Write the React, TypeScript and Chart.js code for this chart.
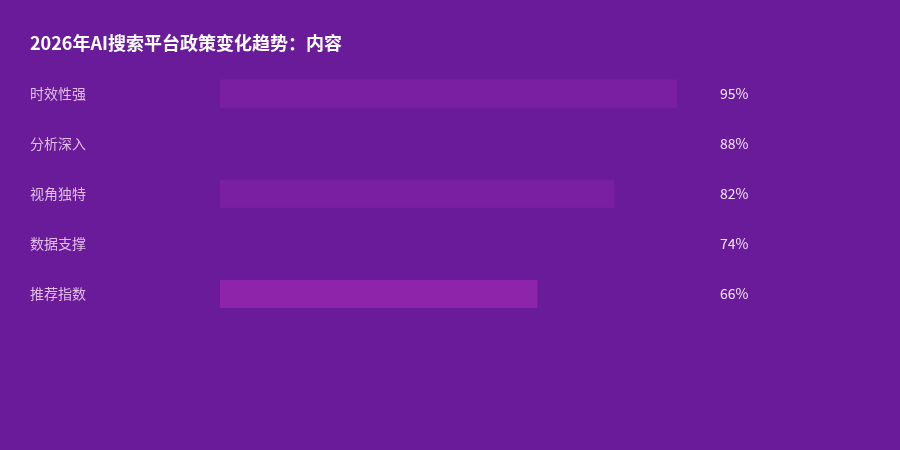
import { useEffect, useRef } from 'react'
import { Chart, registerables } from 'chart.js'
Chart.register(...registerables)

const TITLE = '2026年AI搜索平台政策变化趋势：内容'
const CATEGORIES = ['时效性强', '分析深入', '视角独特', '数据支撑', '推荐指数']
const VALUES = [95, 88, 82, 74, 66]
const VALUE_LABELS = ['95%', '88%', '82%', '74%', '66%']
const BAR_COLORS = ['#7b1fa2', '#6a1b9a', '#7b1fa2', '#6a1b9a', '#8e24aa']

const BG = '#6a1b9a'
const FONT = '"Microsoft YaHei", "Noto Sans CJK SC", sans-serif'

export default function App() {
  const canvasRef = useRef<HTMLCanvasElement>(null)
  const chartRef = useRef<Chart | null>(null)

  useEffect(() => {
    document.body.style.margin = '0'
    document.body.style.background = BG
    if (!canvasRef.current) return
    chartRef.current?.destroy()
    chartRef.current = new Chart(canvasRef.current, {
      type: 'bar',
      data: {
        labels: CATEGORIES,
        datasets: [{
          data: VALUES,
          backgroundColor: BAR_COLORS,
          borderWidth: 0,
          barPercentage: 0.56,
          categoryPercentage: 1,
          yAxisID: 'y',
        }],
      },
      options: {
        indexAxis: 'y',
        responsive: false,
        animation: false,
        layout: { padding: { left: 30, right: 0, top: 32, bottom: 131 } },
        plugins: {
          legend: { display: false },
          tooltip: { enabled: false },
          title: {
            display: true,
            text: TITLE,
            align: 'start',
            color: '#ffffff',
            font: { family: FONT, size: 18, weight: 'bold' },
            padding: { top: 0, bottom: 15 },
          },
        },
        scales: {
          x: { display: false, min: 0, max: 100 },
          y: {
            position: 'left',
            grid: { display: false },
            border: { display: false },
            ticks: {
              crossAlign: 'far',
              color: '#e1bee7',
              font: { family: FONT, size: 14 },
              padding: 0,
            },
            afterFit: (s: any) => { s.width = 190 },
          },
          y2: {
            position: 'right',
            type: 'category',
            labels: VALUE_LABELS,
            grid: { display: false },
            border: { display: false },
            ticks: {
              crossAlign: 'near',
              color: '#f3e5f5',
              font: { family: FONT, size: 14 },
              padding: 11,
            },
            afterFit: (s: any) => { s.width = 199 },
          },
        },
      },
      plugins: [{
        id: 'bg',
        beforeDraw: (c: Chart) => {
          const ctx = c.ctx
          ctx.save()
          ctx.fillStyle = BG
          ctx.fillRect(0, 0, c.width, c.height)
          ctx.restore()
        },
      }],
    })
    return () => { chartRef.current?.destroy() }
  }, [])

  return <canvas ref={canvasRef} width={900} height={450} style={{ display: 'block', width: 900, height: 450 }} />
}
